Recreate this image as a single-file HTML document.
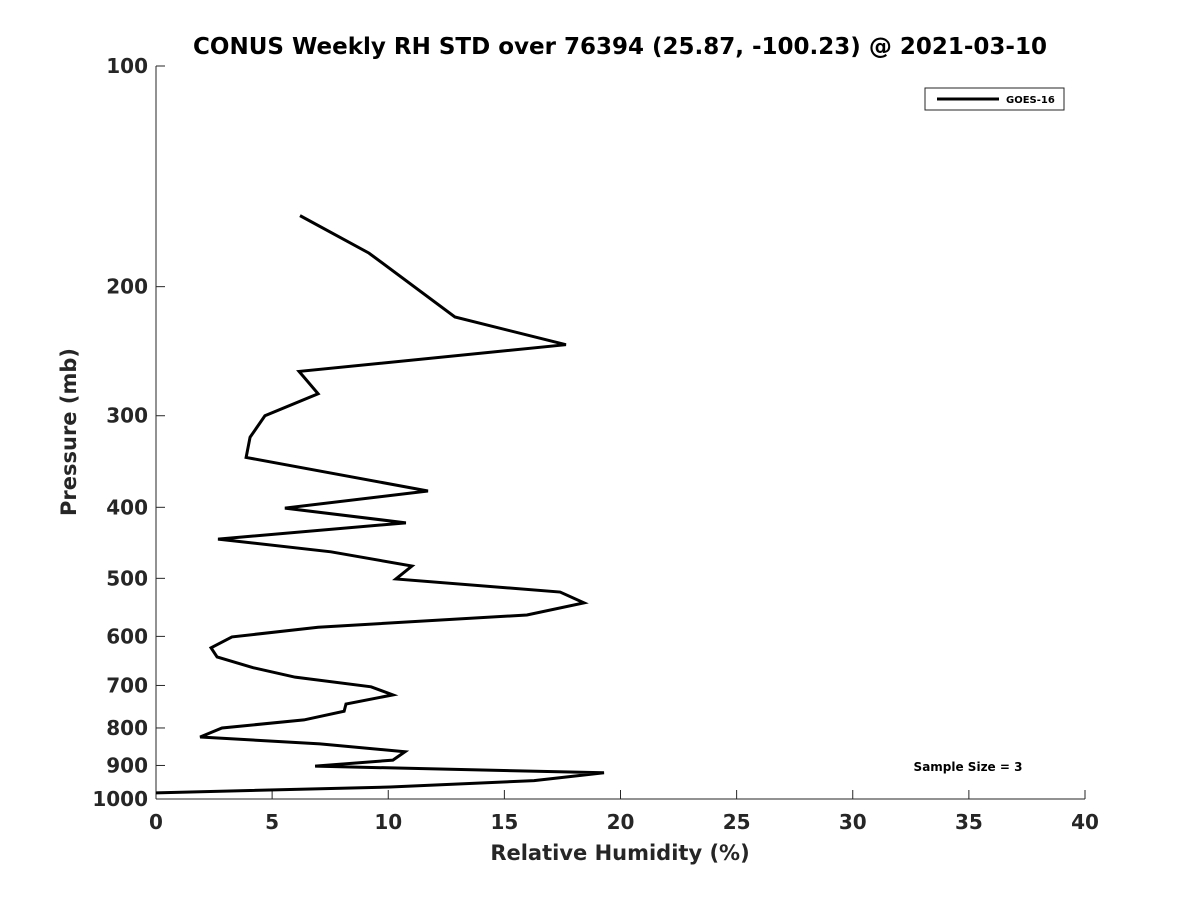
<!DOCTYPE html>
<html><head><meta charset="utf-8"><style>
body{margin:0;background:#fff;}
svg text{font-family:"DejaVu Sans","Liberation Sans",sans-serif;font-weight:bold;fill:#262626;}
</style></head><body>
<svg id="chart" width="1200" height="900">
<rect width="1200" height="900" fill="#fff"/>
<text x="620" y="54" font-size="23" text-anchor="middle" style="fill:#000">CONUS Weekly RH STD over 76394 (25.87, -100.23) @ 2021-03-10</text>
<g id="axes"></g>
<g id="plot"></g>
<text x="620" y="860" font-size="21" text-anchor="middle">Relative Humidity (%)</text>
<text transform="translate(76,432) rotate(-90)" font-size="21" text-anchor="middle">Pressure (mb)</text>
<g>
<rect x="925" y="88" width="139" height="22" fill="#fff" stroke="#262626" stroke-width="1"/>
<line x1="937" y1="99" x2="999" y2="99" stroke="#000" stroke-width="3"/>
<text x="1006" y="103" font-size="10" style="fill:#000">GOES-16</text>
</g>
<text x="968" y="771" font-size="12" text-anchor="middle" style="fill:#000">Sample Size = 3</text>
</svg>
<script>
const rhValues=[6.2,9.17,12.87,17.65,6.16,6.98,4.69,4.05,3.88,11.71,5.55,10.76,2.67,7.53,11.02,10.33,17.4,18.43,15.97,6.98,3.27,2.37,2.63,4.18,5.99,9.26,10.2,8.18,8.1,6.37,2.84,1.9,7.06,10.72,10.2,6.85,19.29,16.28,10.08,0];
const pressures=[160,180,220,240,261,280,300,321,342,380,401,420,442,460,481,501,522,540,561,583,601,622,640,662,682,703,721,742,759,780,800,823,841,862,885,902,921,944,963,981];
const xTicks=[0,5,10,15,20,25,30,35,40];
const yTicks=[100,200,300,400,500,600,700,800,900,1000];
const X0=156,X1=1085,Y0=66,Y1=799;
const xs=v=>X0+(v-0)/(40-0)*(X1-X0);
const ys=p=>Y0+(Math.log10(p)-2)*(Y1-Y0);
const NS="http://www.w3.org/2000/svg";
const axes=document.getElementById('axes'),plot=document.getElementById('plot');
function mk(tag,attrs,parent){const e=document.createElementNS(NS,tag);for(const k in attrs)e.setAttribute(k,attrs[k]);parent.appendChild(e);return e;}
const xa=mk('line',{x1:X0,y1:Y1,x2:X1,y2:Y1,stroke:'#262626','stroke-width':1},axes);


const ya=mk('line',{x1:X0,y1:Y0,x2:X0,y2:Y1,stroke:'#262626','stroke-width':1},axes);


xTicks.forEach(t=>{
 const x=xs(t);
 mk('line',{x1:x,y1:Y1,x2:x,y2:Y1-9,stroke:'#262626'},axes);
 const tx=mk('text',{x:x,y:Y1+30,'font-size':20,'text-anchor':'middle'},axes);
 tx.textContent=t;
 
 
});
yTicks.forEach(t=>{
 const y=ys(t);
 mk('line',{x1:X0,y1:y,x2:X0+9,y2:y,stroke:'#262626'},axes);
 const tx=mk('text',{x:X0-8,y:y+7,'font-size':20,'text-anchor':'end'},axes);
 tx.textContent=t;
 
 
});
const pts=rhValues.map((v,i)=>xs(v)+','+ys(pressures[i])).join(' ');
const line=mk('polyline',{points:pts,fill:'none',stroke:'#000','stroke-width':3,'stroke-linejoin':'miter'},plot);


</script>
</body></html>
